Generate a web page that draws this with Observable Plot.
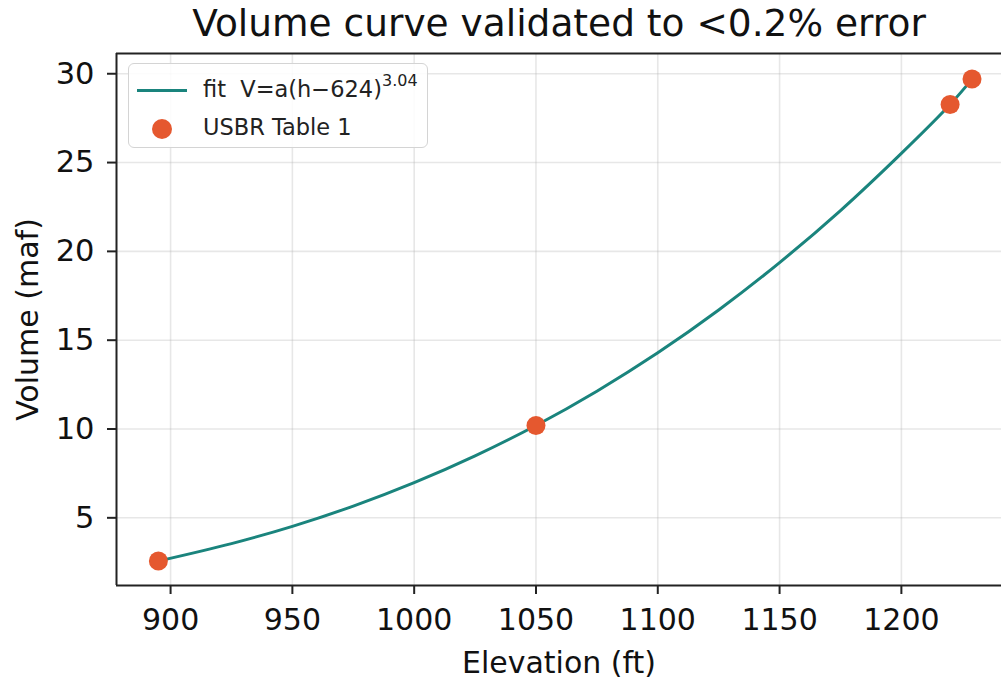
<!DOCTYPE html>
<html>
<head>
<meta charset="utf-8">
<script src="https://cdn.jsdelivr.net/npm/d3@7"></script>
<script src="https://cdn.jsdelivr.net/npm/@observablehq/plot@0.6"></script>
<style>
  html, body { margin: 0; padding: 0; background: #fff; }
  #wrap { position: relative; width: 1001px; height: 679px; overflow: hidden; font-family: "DejaVu Sans", sans-serif; }
  #legend { position: absolute; left: 128px; top: 63px; width: 300px; height: 85px;
    border: 1.5px solid #d4d4d4; border-radius: 6px; background: rgba(255,255,255,0.85);
    color: #222; font-size: 22.5px; box-sizing: border-box; }
  .lg-line { position: absolute; left: 8px; top: 25px; width: 50px; height: 3px; }
  .lg-dot { position: absolute; left: 23px; top: 55px; width: 20px; height: 20px; border-radius: 50%; }
  .lg-text { position: absolute; left: 74px; white-space: nowrap; line-height: 1; }
  sup { font-size: 16px; vertical-align: 0; position: relative; top: -11px; }
</style>
</head>
<body>
<div id="wrap"></div>
<script>
// Fitted curve
const curveElev = [895, 925, 950, 975, 1000, 1025, 1050, 1075, 1100, 1125, 1150, 1175, 1200, 1220, 1229];
const curveVol  = [2.57, 3.55, 4.52, 5.66, 6.98, 8.49, 10.2, 12.13, 14.29, 16.7, 19.37, 22.3, 25.52, 28.27, 29.7];
// USBR Table 1 points
const tableElev = [895, 1050, 1220, 1229];
const tableVol  = [2.57, 10.2, 28.27, 29.7];
// Ticks
const xTicks = [900, 950, 1000, 1050, 1100, 1150, 1200];
const yTicks = [5, 10, 15, 20, 25, 30];
const titleText = "Volume curve validated to <0.2% error";
const xLabel = "Elevation (ft)";
const yLabel = "Volume (maf)";

const lineColor = "#1a847d";
const dotColor = "#e5582f";

const curve = curveElev.map((h, i) => ({h, v: curveVol[i]}));
const table = tableElev.map((h, i) => ({h, v: tableVol[i]}));

const xDom = [877.8, 1241.1];
const yDom = [1.19, 31.14];

const chart = Plot.plot({
  width: 1001,
  height: 679,
  marginLeft: 116,
  marginRight: 0,
  marginTop: 53,
  marginBottom: 94,
  style: { fontFamily: "DejaVu Sans, sans-serif", color: "#222", background: "#fff", overflow: "visible" },
  x: { domain: xDom },
  y: { domain: yDom },
  marks: [
    Plot.gridX(xTicks, { stroke: "#b0b0b0", strokeOpacity: 0.3, strokeWidth: 1.6 }),
    Plot.gridY(yTicks, { stroke: "#b0b0b0", strokeOpacity: 0.3, strokeWidth: 1.6 }),
    Plot.axisX({ ticks: xTicks, tickFormat: d => String(d), tickSize: 9, tickPadding: 14, fontSize: 30, label: null, strokeWidth: 2, stroke: "#222", fill: "#111" }),
    Plot.axisY({ ticks: yTicks, tickFormat: d => String(d), tickSize: 9, tickPadding: 13, fontSize: 30.5, label: null, strokeWidth: 2, stroke: "#222", fill: "#111" }),
    Plot.line(curve, { x: "h", y: "v", stroke: lineColor, strokeWidth: 3, curve: "catmull-rom" }),
    Plot.dot(table, { x: "h", y: "v", r: 9.5, fill: dotColor, stroke: "none" }),
    Plot.ruleX([xDom[0]], { stroke: "#222", strokeWidth: 2 }),
    Plot.ruleY([yDom[0], yDom[1]], { stroke: "#222", strokeWidth: 2 }),
    Plot.text([titleText], { frameAnchor: "top", dy: -30, text: d => d, fontSize: 37.5, lineAnchor: "middle", textAnchor: "middle", fill: "#111" }),
    Plot.text([xLabel], { frameAnchor: "bottom", dy: 78, text: d => d, fontSize: 30, lineAnchor: "middle", textAnchor: "middle", fill: "#111" }),
    Plot.text([yLabel], { frameAnchor: "left", dx: -88, rotate: -90, text: d => d, fontSize: 30, lineAnchor: "middle", textAnchor: "middle", fill: "#111" })
  ]
});

const wrap = document.getElementById("wrap");
wrap.appendChild(chart);

const legend = document.createElement("div");
legend.id = "legend";
legend.innerHTML = `
  <div class="lg-line" style="background:${lineColor}"></div>
  <div class="lg-text" style="top:14px">fit&nbsp;&nbsp;V=a(h\u2212624)<sup>3.04</sup></div>
  <div class="lg-dot" style="background:${dotColor}"></div>
  <div class="lg-text" style="top:52px">USBR Table 1</div>`;
wrap.appendChild(legend);
</script>
</body>
</html>
